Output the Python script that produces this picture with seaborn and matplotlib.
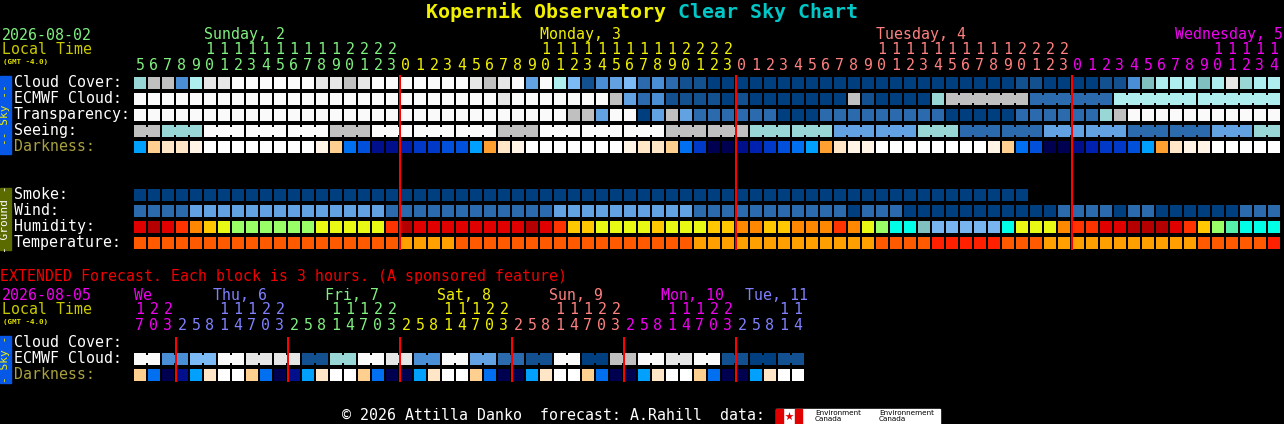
import numpy as np
import seaborn as sns
import matplotlib.pyplot as plt
from matplotlib.colors import ListedColormap
from matplotlib.patches import Rectangle

W, H = 1284, 424
X0 = 133   # left edge of first cell (px)
CW = 14    # cell pitch (px)
MONO = 'DejaVu Sans Mono'
FS = 10.76

# ---------------- data ----------------
# main chart: hourly columns
day_names = ['Sunday, 2', 'Monday, 3', 'Tuesday, 4', 'Wednesday, 5']
day_colors = ['#80F080', '#F0F000', '#FF8080', '#F000F0']
day_hours = [
    [5, 6, 7, 8, 9, 10, 11, 12, 13, 14, 15, 16, 17, 18, 19, 20, 21, 22, 23],
    [0, 1, 2, 3, 4, 5, 6, 7, 8, 9, 10, 11, 12, 13, 14, 15, 16, 17, 18, 19, 20, 21, 22, 23],
    [0, 1, 2, 3, 4, 5, 6, 7, 8, 9, 10, 11, 12, 13, 14, 15, 16, 17, 18, 19, 20, 21, 22, 23],
    [0, 1, 2, 3, 4, 5, 6, 7, 8, 9, 10, 11, 12, 13, 14],
]

# sky palette: 0 = best (dark blue) ... 11 = overcast (white)
sky_pal = ['#003F7F', '#13508F', '#2C6AAE', '#4A8ED6', '#62A2E2', '#7CBAF6',
           '#80C0C0', '#99D6D6', '#AEEEEE', '#C0C0C0', '#E6E6E6', '#FAFAFA']
dark_pal = ['#000050', '#00108C', '#0020B0', '#0038C8', '#0050DC', '#0070F0',
            '#00A0FF', '#FFA030', '#FFCF8F', '#FFE6C6', '#FFF4E6', '#FFFFFF']
hum_pal = ['#78B4F0', '#80C0C0', '#00FFE6', '#55F0AA', '#99FF66', '#E8FA14',
           '#FFC800', '#FF8800', '#FF3300', '#E00000', '#B40000']
temp_pal = ['#FFA000', '#FF5A00', '#FF2000']

cloud_cover = [
    7, 9, 9, 3, 8, 10, 10, 11, 11, 11, 11, 11, 11, 10, 10, 9, 10, 11, 11,
    11, 11, 11, 11, 11, 10, 9, 10, 11, 4, 11, 8, 5, 1, 3, 4, 5, 2, 3, 2, 1, 1, 0, 0,
    0, 0, 0, 0, 0, 0, 0, 0, 0, 0, 0, 0, 0, 0, 0, 0, 0, 0, 0, 0, 1, 1, 0, 0,
    0, 0, 1, 1, 3, 6, 8, 8, 8, 6, 8, 10, 7, 8, 8,
]
ecmwf_cloud = [
    11, 11, 11, 11, 11, 11, 11, 11, 11, 11, 11, 11, 11, 11, 11, 11, 11, 11, 11,
    11, 11, 11, 11, 11, 11, 11, 10, 11, 11, 11, 11, 11, 11, 11, 9, 4, 2, 3, 1, 1, 1, 1, 0,
    1, 0, 0, 0, 0, 0, 0, 0, 9, 1, 0, 0, 0, 0, 7, 9, 9, 9, 9, 9, 9, 2, 2, 2,
    2, 2, 2, 8, 8, 8, 8, 8, 8, 8, 8, 8, 8, 8, 8,
]
transparency = [
    11, 11, 11, 11, 11, 11, 11, 11, 11, 11, 11, 11, 11, 11, 11, 11, 11, 11, 11,
    11, 11, 11, 11, 11, 11, 11, 11, 11, 11, 11, 11, 9, 9, 4, 11, 11, 0, 4, 9, 4, 2, 2, 2,
    2, 2, 2, 0, 0, 0, 2, 2, 2, 2, 2, 2, 2, 2, 2, 0, 0, 0, 0, 0, 2, 2, 2, 2,
    2, 2, 7, 9, 11, 11, 11, 11, 11, 11, 11, 11, 11, 11, 11,
]
seeing = [
    9, 9, 7, 7, 7, 11, 11, 11, 11, 11, 11, 11, 11, 11, 9, 9, 9, 11, 11,
    11, 11, 11, 11, 11, 11, 11, 9, 9, 9, 11, 11, 11, 11, 11, 11, 11, 11, 11, 9, 9, 9, 9, 9,
    9, 7, 7, 7, 7, 7, 7, 4, 4, 4, 4, 4, 4, 7, 7, 7, 2, 2, 2, 2, 2, 2, 4, 4,
    4, 4, 4, 4, 2, 2, 2, 2, 2, 2, 4, 4, 4, 7, 7,
]
darkness = [
    6, 8, 9, 9, 10, 11, 11, 11, 11, 11, 11, 11, 11, 10, 8, 5, 4, 1, 1,
    2, 3, 3, 4, 4, 6, 7, 9, 10, 11, 11, 11, 11, 11, 11, 11, 10, 9, 9, 8, 5, 3, 0, 0,
    1, 2, 3, 4, 5, 6, 7, 9, 10, 10, 11, 11, 11, 11, 11, 11, 11, 11, 10, 8, 5, 4, 0, 0,
    1, 2, 3, 3, 4, 6, 7, 9, 10, 10, 11, 11, 11, 11, 11,
]
smoke = [
    0, 0, 0, 0, 0, 0, 0, 0, 0, 0, 0, 0, 0, 0, 0, 0, 0, 0, 0,
    0, 0, 0, 0, 0, 0, 0, 0, 0, 0, 0, 0, 0, 0, 0, 0, 0, 0, 0, 0, 0, 0, 0, 0,
    0, 0, 0, 0, 0, 0, 0, 0, 0, 0, 0, 0, 0, 0, 0, 0, 0, 0, 0, 0, 0,
    None, None, None,
    None, None, None, None, None, None, None, None, None, None, None, None, None, None, None,
]
wind = [
    2, 2, 2, 2, 4, 4, 4, 4, 4, 4, 4, 4, 4, 4, 4, 4, 4, 4, 2,
    2, 2, 2, 2, 2, 2, 2, 2, 2, 2, 2, 4, 4, 4, 4, 4, 4, 4, 4, 4, 4, 2, 2, 2,
    2, 2, 2, 2, 2, 2, 2, 2, 0, 2, 2, 2, 0, 0, 0, 0, 0, 0, 0, 0, 0, 0, 0, 2,
    2, 2, 2, 0, 2, 2, 0, 0, 0, 0, 0, 0, 2, 2, 2,
]
humidity = [
    9, 10, 9, 8, 7, 6, 5, 4, 4, 4, 4, 4, 4, 5, 5, 5, 5, 5, 8,
    10, 9, 9, 9, 9, 9, 9, 9, 9, 10, 9, 8, 6, 6, 5, 5, 5, 5, 6, 5, 5, 5, 6, 6,
    7, 7, 6, 6, 7, 7, 7, 8, 7, 5, 4, 2, 2, 1, 0, 0, 0, 0, 0, 2, 5, 5, 5, 7,
    8, 8, 9, 9, 10, 10, 10, 9, 8, 6, 4, 3, 2, 2, 2,
]
temperature = [
    1, 1, 1, 1, 1, 1, 1, 1, 1, 1, 1, 1, 1, 1, 1, 1, 1, 1, 1,
    0, 0, 0, 0, 1, 1, 1, 1, 1, 1, 1, 1, 1, 1, 1, 1, 1, 1, 1, 1, 1, 0, 0, 0,
    0, 0, 0, 0, 0, 0, 0, 0, 0, 0, 1, 1, 1, 1, 2, 2, 2, 2, 2, 1, 1, 1, 0, 0,
    0, 0, 0, 0, 0, 0, 0, 0, 0, 1, 1, 1, 1, 1, 2,
]

# extended forecast: 3-hour blocks
ext_names = ['We', 'Thu, 6', 'Fri, 7', 'Sat, 8', 'Sun, 9', 'Mon, 10', 'Tue, 11']
ext_colors = ['#F000F0', '#8080FF', '#80F080', '#F0F000', '#FF8080', '#F000F0', '#8080FF']
ext_hours = [
    [17, 20, 23],
    [2, 5, 8, 11, 14, 17, 20, 23],
    [2, 5, 8, 11, 14, 17, 20, 23],
    [2, 5, 8, 11, 14, 17, 20, 23],
    [2, 5, 8, 11, 14, 17, 20, 23],
    [2, 5, 8, 11, 14, 17, 20, 23],
    [2, 5, 8, 11, 14],
]
ext_ecmwf = [
    11, 11, 3, 3, 5, 5, 11, 11, 10, 10, 10, 10, 1, 1, 7, 7,
    11, 11, 10, 10, 3, 3, 11, 11, 4, 4, 2, 2, 1, 1, 11, 11,
    0, 0, 9, 9, 11, 11, 10, 10, 11, 11, 1, 1, 0, 0, 1, 1,
]
ext_darkness = [
    8, 5, 0, 1, 6, 9, 11, 11, 8, 5, 0, 1, 6, 9, 11, 11,
    8, 5, 0, 0, 6, 9, 11, 11, 8, 5, 0, 0, 6, 9, 11, 11,
    8, 5, 0, 0, 6, 9, 11, 11, 8, 5, 0, 0, 6, 9, 11, 11,
]

# ---------------- figure ----------------
fig = plt.figure(figsize=(W / 100, H / 100), dpi=100, facecolor='black')
bg = fig.add_axes([0, 0, 1, 1])
bg.set_xlim(0, W)
bg.set_ylim(H, 0)
bg.axis('off')


def txt(x, y, s, color, size=FS, **kw):
    bg.text(x, y, s, color=color, fontsize=size, family=MONO, va='center', **kw)


def cell_row(values, palette, top, joins=None):
    n = len(values)
    ax = fig.add_axes([X0 / W, 1 - (top + 13) / H, n * CW / W, 14 / H])
    arr = np.array([[np.nan if v is None else v for v in values]], dtype=float)
    sns.heatmap(arr, mask=np.isnan(arr), cmap=ListedColormap(palette),
                vmin=-0.5, vmax=len(palette) - 0.5, cbar=False,
                linewidths=1.44, linecolor='black',
                xticklabels=False, yticklabels=False, ax=ax)
    ax.set_axis_off()
    # narrow bridges between blocks of the same forecast period
    if joins is not None:
        for c in range(n - 1):
            if joins[c] and values[c] is not None and values[c] == values[c + 1]:
                ax.add_patch(Rectangle((c + 0.85, 0.22), 0.3, 0.56,
                                       facecolor=palette[values[c]], lw=0, zorder=5))
    return ax


hours = [h for d in day_hours for h in d]
hcolors = [day_colors[i] for i, d in enumerate(day_hours) for _ in d]
ehours = [h for d in ext_hours for h in d]
ecolors = [ext_colors[i] for i, d in enumerate(ext_hours) for _ in d]

# title
bg.text(426, 12, 'Kopernik Observatory', color='#F0F000', fontsize=14.35,
        family=MONO, weight='bold', va='center')
bg.text(426 + 21 * 12, 12, 'Clear Sky Chart', color='#00C8C8', fontsize=14.35,
        family=MONO, weight='bold', va='center')

# main header
txt(2, 35, '2026-08-02', day_colors[0])
txt(2, 50, 'Local Time', '#C8C800')
txt(3, 62, '(GMT -4.0)', '#E0E000', size=5.4, weight='bold')
start = 0
for name, col, d in zip(day_names, day_colors, day_hours):
    c10 = start + d.index(10)
    x = min(X0 + 1 + CW * c10, W - 1 - len(name) * 9)
    txt(x, 35, name, col)
    start += len(d)
for c, (h, col) in enumerate(zip(hours, hcolors)):
    xc = X0 + 7 + CW * c
    if h >= 10:
        txt(xc, 50, str(h // 10), col, ha='center')
    txt(xc, 65, str(h % 10), col, ha='center')

# main rows
sky_tops = [77, 93, 109, 125, 141]
sky_labels = ['Cloud Cover:', 'ECMWF Cloud:', 'Transparency:', 'Seeing:', 'Darkness:']
for t, lab in zip(sky_tops, sky_labels):
    txt(14, t + 5.5, lab, '#A8A040' if lab == 'Darkness:' else 'white')
seeing_join = [hours[c + 1] % 3 != 1 for c in range(len(hours) - 1)]
ecmwf_join = [c >= 58 and hours[c + 1] % 6 != 3 for c in range(len(hours) - 1)]
cell_row(cloud_cover, sky_pal, 77)
cell_row(ecmwf_cloud, sky_pal, 93, ecmwf_join)
cell_row(transparency, sky_pal, 109)
cell_row(seeing, sky_pal, 125, seeing_join)
cell_row(darkness, dark_pal, 141)

ground_tops = [189, 205, 221, 237]
for t, lab in zip(ground_tops, ['Smoke:', 'Wind:', 'Humidity:', 'Temperature:']):
    txt(14, t + 5.5, lab, 'white')
cell_row(smoke, sky_pal, 189)
cell_row(wind, sky_pal, 205)
cell_row(humidity, hum_pal, 221)
cell_row(temperature, temp_pal, 237)

# side bars
bg.add_patch(Rectangle((0, 76), 11, 78, color='#0858E8'))
bg.text(5.5, 115, '-- Sky --', color='#F0F000', fontsize=8, family=MONO,
        rotation=90, ha='center', va='center')
bg.add_patch(Rectangle((0, 188), 11, 62, color='#5B6B00'))
bg.text(5.5, 219, '- Ground -', color='white', fontsize=8, family=MONO,
        rotation=90, ha='center', va='center')
bg.add_patch(Rectangle((0, 336), 11, 47, color='#0858E8'))
bg.text(5.5, 359, '- Sky -', color='#F0F000', fontsize=8, family=MONO,
        rotation=90, ha='center', va='center')

# extended header
txt(0, 276, 'EXTENDED Forecast. Each block is 3 hours. (A sponsored feature)', '#F00000')
txt(2, 295, '2026-08-05', ext_colors[0])
txt(2, 310, 'Local Time', '#C8C800')
txt(3, 322, '(GMT -4.0)', '#E0E000', size=5.4, weight='bold')
start = 0
ext_right = X0 + CW * len(ehours) + 3
for name, col, d in zip(ext_names, ext_colors, ext_hours):
    if 11 in d:
        x = min(X0 + 1 + CW * (start + d.index(11)) - 5, ext_right - len(name) * 9)
    else:
        x = X0 + 1 + CW * start
    txt(x, 295, name, col)
    start += len(d)
for c, (h, col) in enumerate(zip(ehours, ecolors)):
    xc = X0 + 7 + CW * c
    if h >= 10:
        txt(xc, 310, str(h // 10), col, ha='center')
    txt(xc, 325, str(h % 10), col, ha='center')

for t, lab in zip([337, 353, 369], ['Cloud Cover:', 'ECMWF Cloud:', 'Darkness:']):
    txt(14, t + 5.5, lab, '#A8A040' if lab == 'Darkness:' else 'white')
ext_join = [ehours[c + 1] % 6 != 5 for c in range(len(ehours) - 1)]
cell_row(ext_ecmwf, sky_pal, 353, ext_join)
cell_row(ext_darkness, dark_pal, 369)

# midnight lines
ov = fig.add_axes([0, 0, 1, 1], zorder=10)
ov.set_xlim(0, W)
ov.set_ylim(H, 0)
ov.axis('off')
ov.patch.set_visible(False)
mid = [c for c in range(1, len(hours)) if hours[c] < hours[c - 1]]
ov.vlines([X0 + 1 + CW * c for c in mid], 75, 250, color='#FF0000', lw=1.44)
emid = [c for c in range(1, len(ehours)) if ehours[c] < ehours[c - 1]]
ov.vlines([X0 + 1 + CW * c for c in emid], 337, 382, color='#FF0000', lw=1.44)

# footer
txt(342, 415, '\u00a9 2026 Attilla Danko  forecast: A.Rahill  data:', 'white')
bg.add_patch(Rectangle((776, 409), 164, 15, color='white'))
bg.add_patch(Rectangle((776, 409), 7, 15, color='#E00000'))
bg.add_patch(Rectangle((795, 409), 7, 15, color='#E00000'))
bg.scatter([789], [416], marker='*', s=40, color='#E00000', lw=0)
bg.text(815, 416, 'Environment\nCanada', color='black', fontsize=5.2,
        family='DejaVu Sans', va='center', linespacing=0.9)
bg.text(879, 416, 'Environnement\nCanada', color='black', fontsize=5.2,
        family='DejaVu Sans', va='center', linespacing=0.9)

fig.savefig('out.png', dpi=100, facecolor='black')
